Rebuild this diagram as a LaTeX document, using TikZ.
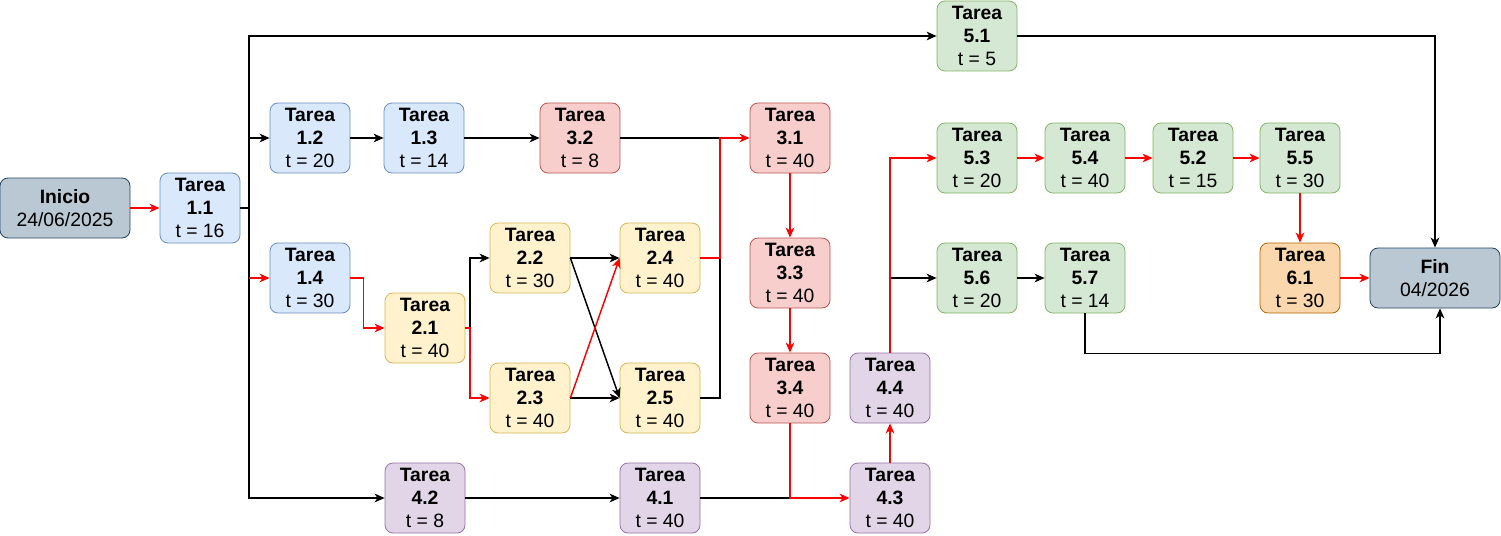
\documentclass[tikz,border=0pt]{standalone}
\usepackage{fontspec}
\setmainfont{Liberation Sans}
\usetikzlibrary{arrows.meta}

\definecolor{grisF}{HTML}{BAC8D3}\definecolor{grisD}{HTML}{23445D}
\definecolor{azulF}{HTML}{DAE8FC}\definecolor{azulD}{HTML}{6C8EBF}
\definecolor{rojoF}{HTML}{F8CECC}\definecolor{rojoD}{HTML}{B85450}
\definecolor{amarF}{HTML}{FFF2CC}\definecolor{amarD}{HTML}{D6B656}
\definecolor{morF}{HTML}{E1D5E7}\definecolor{morD}{HTML}{9673A6}
\definecolor{verdeF}{HTML}{D5E8D4}\definecolor{verdeD}{HTML}{82B366}
\definecolor{naranF}{HTML}{FAD7AC}\definecolor{naranD}{HTML}{B46504}
\definecolor{critico}{HTML}{FF0000}

\newcommand{\tarea}[2]{\textbf{Tarea}\\\textbf{#1}\\t = #2}

\begin{document}
\begin{tikzpicture}
  [x=0.75pt,y=-0.75pt,
   >={Stealth[length=7.5pt,width=6.5pt,inset=2.2pt]},
   caja/.style={draw,rounded corners=6pt,align=center,inner sep=0pt,line width=0.6pt,
     font=\fontsize{14.5}{17.5}\selectfont,minimum width=60pt,minimum height=52.5pt},
   gris/.style={caja,fill=grisF,draw=grisD,minimum width=97.5pt,minimum height=45pt},
   azul/.style={caja,fill=azulF,draw=azulD},
   rojo/.style={caja,fill=rojoF,draw=rojoD},
   amarillo/.style={caja,fill=amarF,draw=amarD},
   morado/.style={caja,fill=morF,draw=morD},
   verde/.style={caja,fill=verdeF,draw=verdeD},
   naranja/.style={caja,fill=naranF,draw=naranD},
   linea/.style={line width=1.1pt},
   flecha/.style={linea,->},
   critica/.style={flecha,critico}]
  \useasboundingbox (0,0) rectangle (1501,535);

  \node[gris] (ini) at (65,208)  {\textbf{Inicio}\\24/06/2025};
  \node[azul] (t11) at (200,208) {\tarea{1.1}{16}};
  \node[azul] (t12) at (310,138) {\tarea{1.2}{20}};
  \node[azul] (t13) at (424,138) {\tarea{1.3}{14}};
  \node[azul] (t14) at (310,278) {\tarea{1.4}{30}};
  \node[amarillo] (t21) at (425,328) {\tarea{2.1}{40}};
  \node[amarillo] (t22) at (530,258) {\tarea{2.2}{30}};
  \node[amarillo] (t23) at (530,398) {\tarea{2.3}{40}};
  \node[amarillo] (t24) at (660,258) {\tarea{2.4}{40}};
  \node[amarillo] (t25) at (660,398) {\tarea{2.5}{40}};
  \node[rojo] (t32) at (580,138) {\tarea{3.2}{8}};
  \node[rojo] (t31) at (790,138) {\tarea{3.1}{40}};
  \node[rojo] (t33) at (790,273) {\tarea{3.3}{40}};
  \node[rojo] (t34) at (790,388) {\tarea{3.4}{40}};
  \node[morado] (t42) at (425,498) {\tarea{4.2}{8}};
  \node[morado] (t41) at (660,498) {\tarea{4.1}{40}};
  \node[morado] (t43) at (890,498) {\tarea{4.3}{40}};
  \node[morado] (t44) at (890,388) {\tarea{4.4}{40}};
  \node[verde] (t51) at (977,36)   {\tarea{5.1}{5}};
  \node[verde] (t53) at (977,158)  {\tarea{5.3}{20}};
  \node[verde] (t54) at (1085,158) {\tarea{5.4}{40}};
  \node[verde] (t52) at (1193,158) {\tarea{5.2}{15}};
  \node[verde] (t55) at (1300,158) {\tarea{5.5}{30}};
  \node[verde] (t56) at (977,278)  {\tarea{5.6}{20}};
  \node[verde] (t57) at (1085,278) {\tarea{5.7}{14}};
  \node[naranja] (t61) at (1300,278) {\tarea{6.1}{30}};
  \node[gris] (fin) at (1435,278) {\textbf{Fin}\\04/2026};

  \coordinate (s1) at (249,208);
  \coordinate (s2) at (470,328);
  \coordinate (m) at (720,138);

  % salidas de la tarea 1.1
  \draw[critica] (ini) -- (t11);
  \draw[linea] (t11) -- (s1);
  \foreach \to in {t51,t12,t42}
    \draw[flecha] (s1) |- (\to);
  \draw[linea] (s1) -- (s1 |- t14);
  \draw[critica] (s1 |- t14) -- (t14);

  \draw[flecha] (t12) -- (t13);
  \draw[flecha] (t13) -- (t32);
  \draw[critica] (t14.east) -- ++(13,0) |- (t21);

  % bloque 2
  \draw[flecha] (t21.east) -- (s2) |- (t22);
  \draw[critica] (t21.east) -- (s2) |- (t23);
  \foreach \from/\to in {t22/t24,t22/t25,t23/t25}
    \draw[flecha] (\from.east) -- (\to.west);
  \draw[critica] (t23.east) -- (t24.west);

  % hacia la tarea 3.1
  \draw[linea] (t32) -- (m);
  \draw[linea] (t25.east) -| (m |- t24);
  \draw[critica] (t24.east) -| (m) -- (t31);
  \foreach \from/\to in {t31/t33,t33/t34}
    \draw[critica] (\from) -- (\to);

  % bloque 4
  \draw[flecha] (t42) -- (t41);
  \draw[linea] (t41) -- (t34 |- t41);
  \draw[critica] (t34) |- (t43);
  \draw[critica] (t43) -- (t44);
  \draw[flecha] (t44) |- (t56);
  \draw[critica] (t44) |- (t53);

  % bloque 5 y fin
  \foreach \from/\to in {t53/t54,t54/t52,t52/t55,t55/t61,t61/fin}
    \draw[critica] (\from) -- (\to);
  \draw[flecha] (t56) -- (t57);
  \draw[flecha] (t51) -| (fin);
  \draw[flecha] (t57.south) -- ++(0,40) -| ([xshift=3.75pt]fin.south);

\end{tikzpicture}
\end{document}
